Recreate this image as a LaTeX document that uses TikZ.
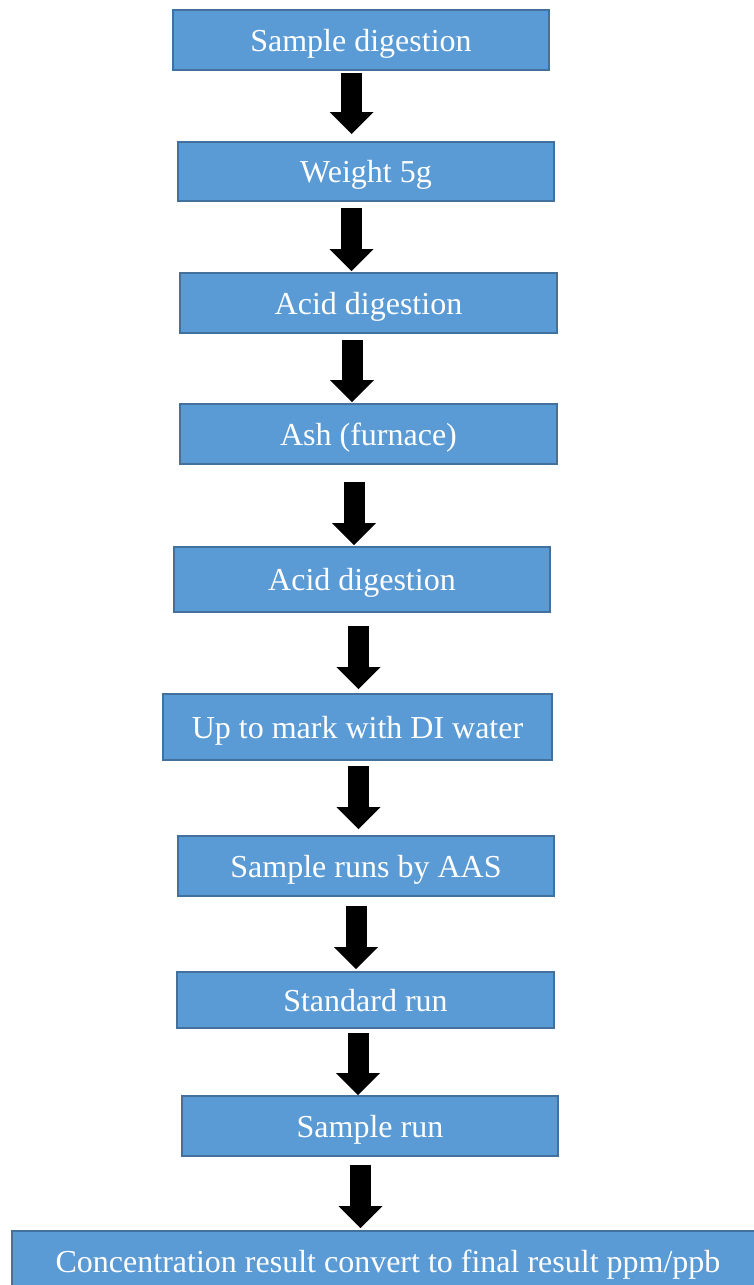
\documentclass[tikz,border=0pt]{standalone}
\usepackage{fontspec}
\setmainfont{Liberation Serif}
\usetikzlibrary{arrows.meta}
\definecolor{boxblue}{HTML}{5B9BD5}
\definecolor{boxedge}{HTML}{41719C}
\tikzset{
  stepbox/.style={draw=boxedge,fill=boxblue,line width=2pt,text=white,
    minimum width=376pt,minimum height=60pt,inner sep=0pt,
    text height=22pt,text depth=0pt,font=\fontsize{32}{38}\selectfont},
  flowarrow/.style={black,line width=21pt,-{Triangle[width=44pt,length=22pt,line width=0pt]}}
}
\begin{document}
\begin{tikzpicture}[x=1pt,y=-1pt]
  \useasboundingbox (0,0) rectangle (754,1285);
  \node[stepbox] (s1) at (361,40) {Sample digestion};
  \node[stepbox,minimum height=59pt] (s2) at (366,171.5) {Weight 5g};
  \node[stepbox,minimum width=377pt] (s3) at (368.5,303) {Acid digestion};
  \node[stepbox,minimum width=377pt] (s4) at (368.5,434) {Ash (furnace)};
  \node[stepbox,minimum height=65pt] (s5) at (362,579.5) {Acid digestion};
  \node[stepbox,minimum width=389pt,minimum height=66pt] (s6) at (357.5,727) {Up to mark with DI water};
  \node[stepbox] (s7) at (366,866) {Sample runs by AAS};
  \node[stepbox,minimum width=377pt,minimum height=56pt] (s8) at (365.5,1000) {Standard run};
  \node[stepbox] (s9) at (370,1126) {Sample run};
  \node[stepbox,minimum width=752pt] (s10) at (388,1261) {Concentration result convert to final result ppm/ppb};
  \draw[flowarrow] ([xshift=-9.5pt,yshift=-2pt]s1.south) -- ([xshift=-14.5pt,yshift=7pt]s2.north);
  \draw[flowarrow] ([xshift=-14.5pt,yshift=-6pt]s2.south) -- ([xshift=-17pt,yshift=1pt]s3.north);
  \draw[flowarrow] ([xshift=-16.5pt,yshift=-6pt]s3.south) -- ([xshift=-16.5pt,yshift=1pt]s4.north);
  \draw[flowarrow] ([xshift=-14.5pt,yshift=-17pt]s4.south) -- ([xshift=-8pt,yshift=1pt]s5.north);
  \draw[flowarrow] ([xshift=-3.5pt,yshift=-13pt]s5.south) -- ([xshift=1pt,yshift=4pt]s6.north);
  \draw[flowarrow] ([xshift=1pt,yshift=-5pt]s6.south) -- ([xshift=-7.5pt,yshift=6pt]s7.north);
  \draw[flowarrow] ([xshift=-10pt,yshift=-9pt]s7.south) -- ([xshift=-9.5pt,yshift=2pt]s8.north);
  \draw[flowarrow] ([xshift=-7.5pt,yshift=-4pt]s8.south) -- ([xshift=-12pt]s9.north);
  \draw[flowarrow] ([xshift=-9.5pt,yshift=-8pt]s9.south) -- ([xshift=-27.5pt,yshift=2pt]s10.north);
\end{tikzpicture}
\end{document}
